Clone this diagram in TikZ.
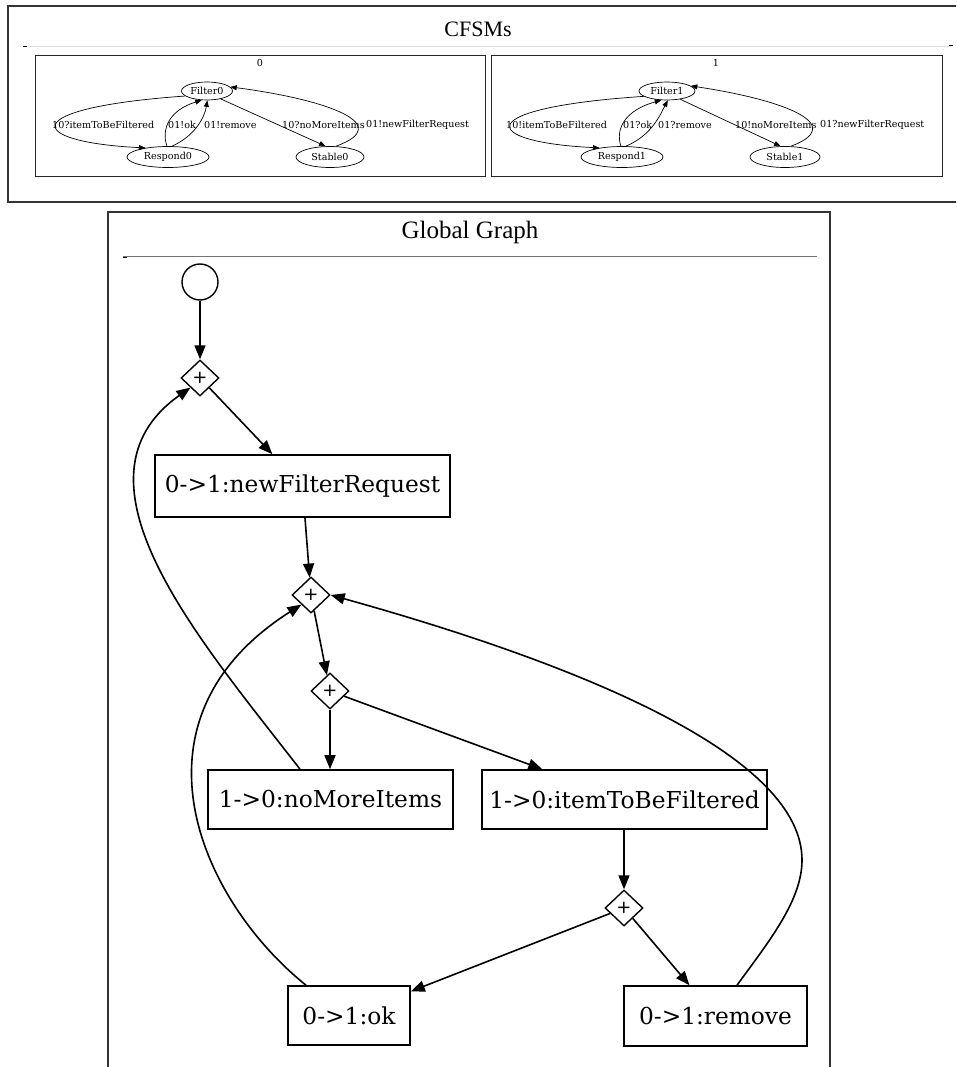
\documentclass[tikz,border=0pt]{standalone}
\usepackage{fontspec}
\setmainfont{Liberation Serif}
\newfontfamily\dvs{DejaVu Serif}
\newfontfamily\dvsans{DejaVu Sans}
\usetikzlibrary{shapes.geometric,arrows.meta,calc}

\tikzset{
  frame/.style={draw=black!80, line width=1.1pt},
  subframe/.style={draw=black!85, line width=0.9pt},
  rule/.style={line width=0.9pt},
  state/.style={ellipse, draw, line width=0.7pt, inner sep=0pt, font=\fontsize{9.6}{11}\dvs},
  tlabel/.style={inner sep=0pt, anchor=west, font=\fontsize{9.6}{11}\dvs},
  ce/.style={line width=0.7pt, -{Triangle[length=6.5pt,width=5pt]}},
  msg/.style={rectangle, draw, line width=1.6pt, inner sep=0pt, font=\fontsize{23.3}{27}\dvs},
  gate/.style={diamond, draw, line width=1.4pt, inner sep=0pt, minimum width=38pt, minimum height=36pt,
               font=\fontsize{18}{18}\dvsans},
  ge/.style={line width=1.6pt, -{Triangle[length=14pt,width=11pt]}},
  gl/.style={line width=1.6pt},
}

\begin{document}
\begin{tikzpicture}[x=1pt,y=-1pt]
\useasboundingbox (0,0) rectangle (956,1067);
\begin{scope}
\clip (0,0) rectangle (956,1067);

% ---------- CFSMs panel ----------
\draw[frame] (962,6) -- (8,6) -- (8,202) -- (962,202);
\node[font=\fontsize{22}{26}\selectfont] (cfsmtitle) at (478,29) {CFSMs};
\draw[rule, draw=black!12] (25,46) -- (951,46);
\draw[line width=1pt] (23,47) -- (27,47);
\draw[line width=1pt] (949,46) -- (953,46);

% machine 0
\draw[subframe] (35,55) rectangle (485,176);
\node[inner sep=0pt, font=\fontsize{9.6}{11}\dvs] (m0) at (260,63) {0};
\node[state, minimum width=51pt, minimum height=18pt] (F0) at (207,91) {Filter0};
\node[state, minimum width=82pt, minimum height=21pt] (R0) at (168,157) {Respond0};
\node[state, minimum width=68pt, minimum height=21pt] (S0) at (330,157) {Stable0};

\draw[ce] (F0.193) .. controls (15,108) and (25,142) .. (R0.158);
\draw[ce] (R0.96) .. controls (161,128) and (170,110) .. (F0.240);
\draw[ce] (R0.70) .. controls (197,135) and (205,115) .. (F0.272);
\draw[ce] (F0.330) -- (S0.112);
\draw[ce] (S0.62) .. controls (395,125) and (330,100) .. (F0.10);

\node[tlabel] (l0a) at (52,125) {10?itemToBeFiltered};
\node[tlabel] (l0b) at (168,125) {01!ok};
\node[tlabel] (l0c) at (204,125) {01!remove};
\node[tlabel] (l0d) at (282,125) {10?noMoreItems};
\node[tlabel] (l0e) at (366,125) {01!newFilterRequest};

% machine 1
\draw[subframe] (491,55) rectangle (942,176);
\node[inner sep=0pt, font=\fontsize{9.6}{11}\dvs] (m1) at (716,63) {1};
\node[state, minimum width=56pt, minimum height=18pt] (F1) at (667,91) {Filter1};
\node[state, minimum width=82pt, minimum height=21pt] (R1) at (622,157) {Respond1};
\node[state, minimum width=70pt, minimum height=21pt] (S1) at (785,157) {Stable1};

\draw[ce] (F1.193) .. controls (469,108) and (479,142) .. (R1.158);
\draw[ce] (R1.96) .. controls (615,128) and (626,110) .. (F1.238);
\draw[ce] (R1.70) .. controls (652,135) and (660,115) .. (F1.275);
\draw[ce] (F1.328) -- (S1.112);
\draw[ce] (S1.62) .. controls (848,125) and (785,100) .. (F1.12);

\node[tlabel] (l1a) at (506,125) {10!itemToBeFiltered};
\node[tlabel] (l1b) at (623,125) {01?ok};
\node[tlabel] (l1c) at (658,125) {01?remove};
\node[tlabel] (l1d) at (735,125) {10!noMoreItems};
\node[tlabel] (l1e) at (820,125) {01?newFilterRequest};

% ---------- Global graph panel ----------
\draw[frame] (108,1075) -- (108,212) -- (830,212) -- (830,1075);
\node[font=\fontsize{25}{29}\selectfont] (ggtitle) at (470,232) {Global Graph};
\draw[rule, draw=black!55] (123,256) -- (817,256);
\draw[line width=1pt] (123,257) -- (127,257);

\node[circle, draw, line width=1.4pt, minimum size=36pt, inner sep=0pt] (st) at (200,282) {};
\node[gate] (d1) at (200,378) {+};
\node[msg, minimum width=295pt, minimum height=62pt] (nfr) at (302.5,486) {0->1:newFilterRequest};
\node[gate] (d2) at (311,595) {+};
\node[gate] (d3) at (330,691) {+};
\node[msg, minimum width=245pt, minimum height=59pt] (nmi) at (330.5,799.5) {1->0:noMoreItems};
\node[msg, minimum width=285pt, minimum height=59pt] (itbf) at (624.5,799.5) {1->0:itemToBeFiltered};
\node[gate] (d4) at (624,908) {+};
\node[msg, minimum width=122pt, minimum height=59pt] (ok) at (349,1015.5) {0->1:ok};
\node[msg, minimum width=183pt, minimum height=60pt] (rem) at (715.5,1016) {0->1:remove};

\draw[ge] (st) -- (d1);
\draw[ge] (d1) -- (nfr);
\draw[ge] (nfr) -- (d2);
\draw[ge] (d2) -- (d3);
\draw[ge] (d3.south) -- (d3.south |- nmi.north);
\draw[ge] (d3) -- (itbf);
\draw[ge] (d4.north |- itbf.south) -- (d4.north);
\draw[ge] (d4) -- (ok);
\draw[ge] (d4) -- (rem);

% loops back to the forks
\draw[ge] ($(nmi.north)+(-30.5,0)$) .. controls (200,640) and (60,480) .. (d1.225);
\draw[ge] ($(ok.north)+(-43,0)$) .. controls (200,900) and (120,720) .. (d2.225);
\draw[gl] ($(rem.north)+(21.5,0)$) .. controls (770,940) and (802,900) .. (802,860) coordinate (bend);
\draw[ge] (bend) .. controls (802,760) and (600,670) .. (d2.east);
\end{scope}
\end{tikzpicture}
\end{document}
